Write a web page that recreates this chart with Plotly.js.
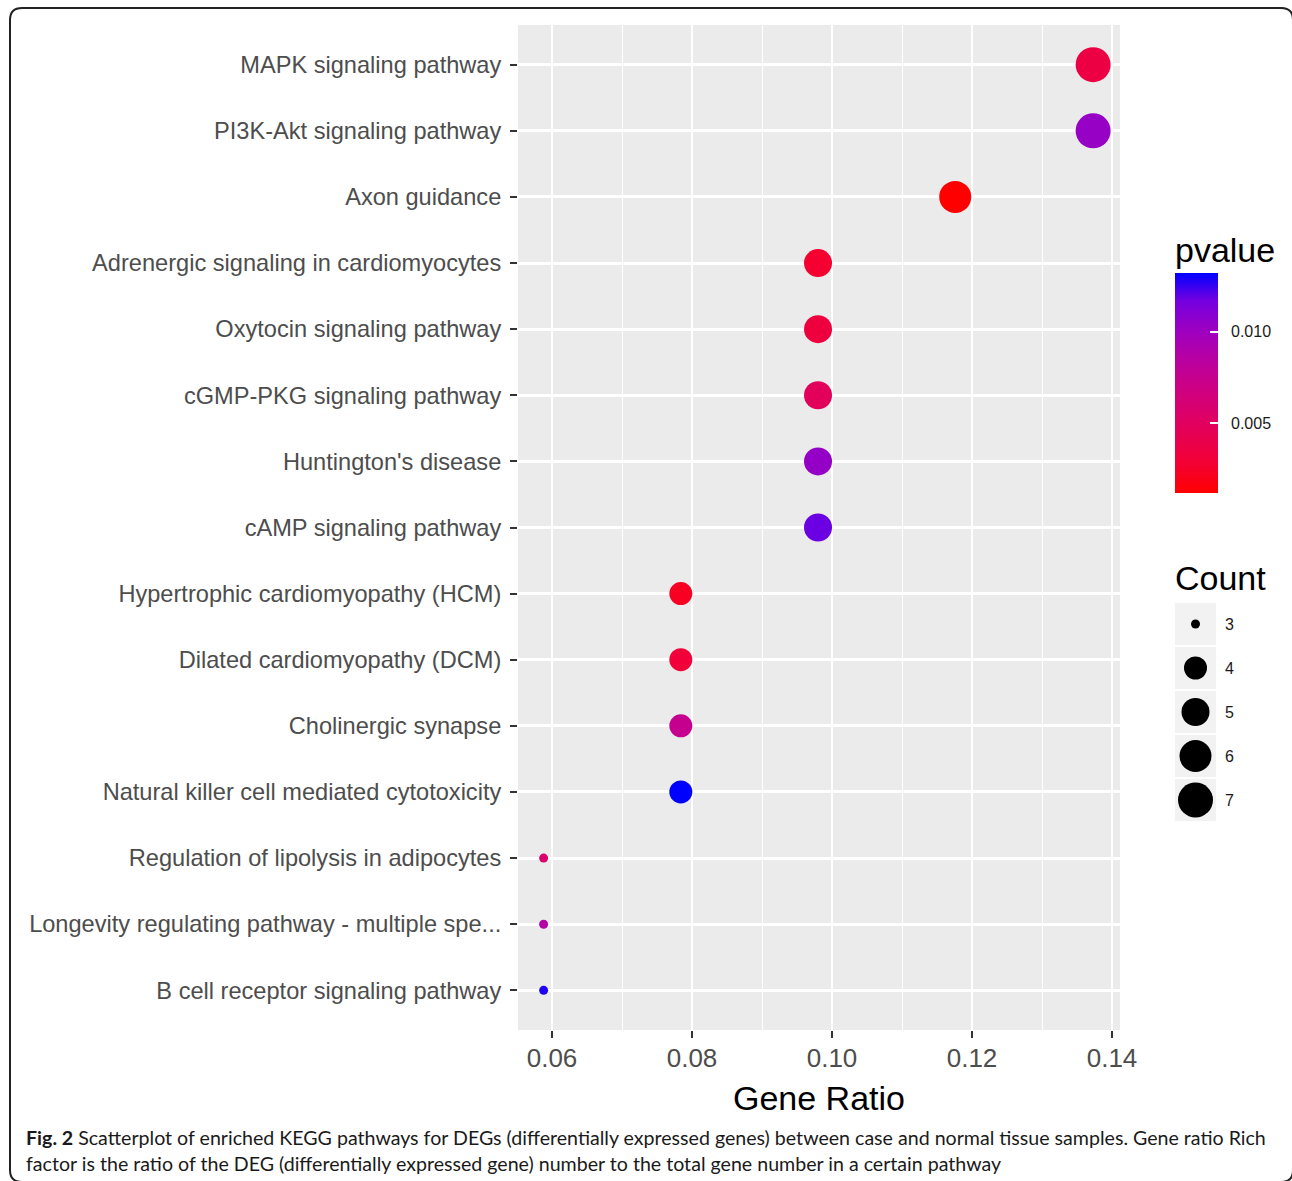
<!DOCTYPE html>
<html>
<head>
<meta charset="utf-8">
<script src="https://cdn.plot.ly/plotly-3.0.1.min.js"></script>
<style>
  html, body { margin: 0; padding: 0; background: #ffffff; }
  #chart { width: 1292px; height: 1181px; }
</style>
</head>
<body>
<div id="chart"></div>
<script>
// ---------------- DATA ----------------
const pathways = [
  "MAPK signaling pathway",
  "PI3K-Akt signaling pathway",
  "Axon guidance",
  "Adrenergic signaling in cardiomyocytes",
  "Oxytocin signaling pathway",
  "cGMP-PKG signaling pathway",
  "Huntington's disease",
  "cAMP signaling pathway",
  "Hypertrophic cardiomyopathy (HCM)",
  "Dilated cardiomyopathy (DCM)",
  "Cholinergic synapse",
  "Natural killer cell mediated cytotoxicity",
  "Regulation of lipolysis in adipocytes",
  "Longevity regulating pathway - multiple spe...",
  "B cell receptor signaling pathway"
];
const geneRatio = [0.1373, 0.1373, 0.1176, 0.0980, 0.0980, 0.0980, 0.0980, 0.0980,
                   0.0784, 0.0784, 0.0784, 0.0784, 0.0588, 0.0588, 0.0588];
const counts    = [7, 7, 6, 5, 5, 5, 5, 5, 4, 4, 4, 4, 3, 3, 3];
const pvalues   = [0.0036, 0.0103, 0.0012, 0.0027, 0.0034, 0.0048, 0.0104, 0.0118,
                   0.0022, 0.0031, 0.0075, 0.0132, 0.0058, 0.0088, 0.0128];

const xTickVals  = [0.06, 0.08, 0.10, 0.12, 0.14];
const xTickText  = ["0.06", "0.08", "0.10", "0.12", "0.14"];
const xMinorVals = [0.07, 0.09, 0.11, 0.13];
const pTickVals  = [0.005, 0.010];
const pTickText  = ["0.005", "0.010"];
const countLevels = [3, 4, 5, 6, 7];
const countLabels = ["3", "4", "5", "6", "7"];

const captionLine1 = "<b>Fig. 2</b> Scatterplot of enriched KEGG pathways for DEGs (differentially expressed genes) between case and normal tissue samples. Gene ratio Rich";
const captionLine2 = "factor is the ratio of the DEG (differentially expressed gene) number to the total gene number in a certain pathway";

// ---------------- STYLE ----------------
const W = 1292, H = 1181;
const px = v => v / W;             // pixel -> paper x
const py = v => 1 - v / H;         // pixel -> paper y
const dotDiameter = {3: 9, 4: 23, 5: 28, 6: 32, 7: 35};   // size scale (px)
const sizeOf = c => dotDiameter[c];

const colorscale = [
  [0.000, "rgb(255,0,0)"],
  [0.125, "rgb(244,0,49)"],
  [0.250, "rgb(232,0,79)"],
  [0.375, "rgb(218,0,108)"],
  [0.500, "rgb(202,0,136)"],
  [0.625, "rgb(181,0,165)"],
  [0.750, "rgb(154,0,195)"],
  [0.875, "rgb(115,0,224)"],
  [1.000, "rgb(0,0,255)"]
];

const FONT = "Liberation Sans, Arial, sans-serif";
const CAPFONT = "Lato, Open Sans, sans-serif";

// plot area in pixels
const PL = 518, PR = 1120, PT = 25, PB = 1030;
// colorbar box in pixels
const CB_L = 1175, CB_W = 43, CB_BOTTOM = 493, CB_LEN = 220;

function roundRect(x0, y0, x1, y1, r) {
  const X = px, Y = py;
  return "M " + X(x0 + r) + "," + Y(y0) +
    " L " + X(x1 - r) + "," + Y(y0) +
    " Q " + X(x1) + "," + Y(y0) + " " + X(x1) + "," + Y(y0 + r) +
    " L " + X(x1) + "," + Y(y1 - r) +
    " Q " + X(x1) + "," + Y(y1) + " " + X(x1 - r) + "," + Y(y1) +
    " L " + X(x0 + r) + "," + Y(y1) +
    " Q " + X(x0) + "," + Y(y1) + " " + X(x0) + "," + Y(y1 - r) +
    " L " + X(x0) + "," + Y(y0 + r) +
    " Q " + X(x0) + "," + Y(y0) + " " + X(x0 + r) + "," + Y(y0) + " Z";
}

// ---------------- TRACES ----------------
const mainTrace = {
  type: "scatter",
  mode: "markers",
  x: geneRatio,
  y: pathways,
  xaxis: "x",
  yaxis: "y",
  opacity: 1,
  marker: {
    size: counts.map(sizeOf),
    sizemode: "diameter",
    color: pvalues,
    colorscale: colorscale,
    showscale: true,
    line: { width: 0 },
    opacity: 1,
    colorbar: {
      xref: "paper", yref: "paper",
      x: px(CB_L), xanchor: "left",
      y: py(CB_BOTTOM), yanchor: "bottom",
      thickness: CB_W, thicknessmode: "pixels",
      len: CB_LEN, lenmode: "pixels",
      xpad: 0, ypad: 0,
      outlinewidth: 0,
      tickmode: "array",
      tickvals: pTickVals,
      ticktext: pTickText,
      ticks: "inside",
      ticklen: 8,
      tickwidth: 1.5,
      tickcolor: "#ffffff",
      showticklabels: false,
      title: { text: "" }
    }
  },
  hovertemplate: "%{y}<br>Gene Ratio: %{x}<br>pvalue: %{marker.color}<extra></extra>",
  showlegend: false
};

const sizeLegendTrace = {
  type: "scatter",
  mode: "markers",
  x: countLevels.map(() => 0),
  y: countLabels,
  xaxis: "x2",
  yaxis: "y2",
  opacity: 1,
  marker: { size: countLevels.map(sizeOf), sizemode: "diameter", color: "rgb(0,0,0)", opacity: 1, line: { width: 0 } },
  hoverinfo: "skip",
  showlegend: false
};

// ---------------- SHAPES ----------------
const shapes = [
  // panel background
  { type: "rect", xref: "x domain", yref: "y domain", x0: 0, x1: 1, y0: 0, y1: 1,
    fillcolor: "#EBEBEB", line: { width: 0 }, layer: "below" },
  // outer frame
  { type: "path", xref: "paper", yref: "paper", path: roundRect(10, 8, 1293, 1182, 12),
    line: { color: "#222222", width: 2 }, fillcolor: "rgba(0,0,0,0)", layer: "above" }
];
countLabels.forEach((lab, i) => {
  shapes.push({ type: "rect", xref: "x2", yref: "y2", x0: -0.5, x1: 0.5, y0: i - 0.48, y1: i + 0.48,
    fillcolor: "#F2F2F2", line: { width: 0 }, layer: "below" });
});

// colour bar tick labels placed along the pvalue scale
const pMin = Math.min(...pvalues), pMax = Math.max(...pvalues);
const cbLabelAnnotations = pTickVals.map((v, i) => ({
  xref: "paper", yref: "paper",
  x: px(CB_L + CB_W + 11), xanchor: "left",
  y: py(CB_BOTTOM - (v - pMin) / (pMax - pMin) * CB_LEN), yanchor: "middle",
  text: pTickText[i], showarrow: false,
  font: { family: FONT, size: 16, color: "#1a1a1a" }
}));

// ---------------- LAYOUT ----------------
const layout = {
  width: W, height: H,
  margin: { l: 0, r: 0, t: 0, b: 0, pad: 0 },
  paper_bgcolor: "#ffffff",
  plot_bgcolor: "rgba(0,0,0,0)",
  font: { family: FONT, color: "#4D4D4D" },
  showlegend: false,
  xaxis: {
    domain: [px(PL), px(PR)],
    anchor: "y",
    range: [0.05514, 0.14114],
    tickmode: "array",
    tickvals: xTickVals,
    ticktext: xTickText,
    ticks: "outside", ticklen: 7, tickwidth: 2, tickcolor: "#333333",
    ticklabelstandoff: -2,
    tickfont: { family: FONT, size: 26, color: "#4D4D4D" },
    showgrid: true, gridcolor: "#ffffff", gridwidth: 2.3,
    minor: { tickmode: "array", tickvals: xMinorVals, showgrid: true, gridcolor: "#ffffff", gridwidth: 1.2, ticks: "" },
    zeroline: false, showline: false,
    fixedrange: true,
    title: { text: "Gene Ratio", font: { family: FONT, size: 34, color: "#000000" }, standoff: 13 }
  },
  yaxis: {
    domain: [1 - PB / H, 1 - PT / H],
    anchor: "x",
    type: "category",
    categoryorder: "array",
    categoryarray: pathways,
    range: [14.6, -0.6],
    ticks: "outside", ticklen: 7, tickwidth: 2, tickcolor: "#333333",
    ticklabelstandoff: 4,
    tickfont: { family: FONT, size: 23.6, color: "#4D4D4D" },
    showgrid: true, gridcolor: "#ffffff", gridwidth: 2.5,
    zeroline: false, showline: false,
    fixedrange: true
  },
  xaxis2: {
    domain: [px(1175), px(1216)],
    anchor: "y2",
    range: [-0.5, 0.5],
    visible: false,
    fixedrange: true
  },
  yaxis2: {
    domain: [1 - 822 / H, 1 - 602 / H],
    anchor: "x2",
    side: "right",
    type: "category",
    categoryorder: "array",
    categoryarray: countLabels,
    range: [4.5, -0.5],
    showgrid: false, zeroline: false, showline: false,
    ticks: "", ticklabelstandoff: 8,
    tickfont: { family: FONT, size: 16, color: "#1a1a1a" },
    fixedrange: true
  },
  shapes: shapes,
  annotations: [
    { xref: "paper", yref: "paper", x: px(1173), y: py(250), xanchor: "left", yanchor: "middle",
      text: "pvalue", showarrow: false, font: { family: FONT, size: 34, color: "#000000" } },
    { xref: "paper", yref: "paper", x: px(1173), y: py(578), xanchor: "left", yanchor: "middle",
      text: "Count", showarrow: false, font: { family: FONT, size: 34, color: "#000000" } },
    { xref: "paper", yref: "paper", x: px(24), y: py(1137), xanchor: "left", yanchor: "middle",
      text: captionLine1, showarrow: false, align: "left", font: { family: CAPFONT, size: 19.6, color: "#1a1a1a" } },
    { xref: "paper", yref: "paper", x: px(24), y: py(1163), xanchor: "left", yanchor: "middle",
      text: captionLine2, showarrow: false, align: "left", font: { family: CAPFONT, size: 19.6, color: "#1a1a1a" } }
  ].concat(cbLabelAnnotations)
};

Plotly.newPlot("chart", [mainTrace, sizeLegendTrace], layout, { displayModeBar: false });
</script>
</body>
</html>
